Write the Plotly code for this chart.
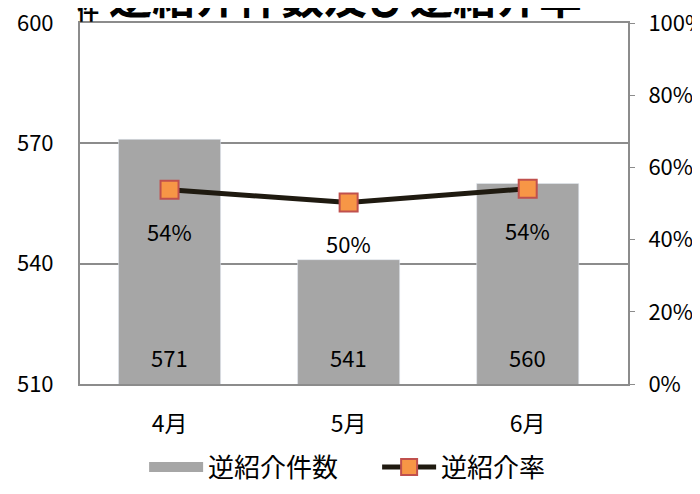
import plotly.graph_objects as go

months = ["4月", "5月", "6月"]
counts = [571, 541, 560]
rates = [0.538, 0.503, 0.541]
rate_labels = ["54%", "50%", "54%"]
left_ticks = [510, 540, 570, 600]
right_ticks = [0, 0.2, 0.4, 0.6, 0.8, 1.0]
right_tick_labels = ["0%", "20%", "40%", "60%", "80%", "100%"]

FONT = "Noto Sans CJK JP"
BAR_COLOR = "#a6a6a6"
AXIS_COLOR = "#8c8c8c"

fig = go.Figure()
fig.add_trace(go.Bar(
    x=months, y=counts, name="逆紹介件数", showlegend=False,
    marker=dict(color=BAR_COLOR), width=0.57,
))
# legend entry for the bars (wide grey swatch as in the reference)
fig.add_trace(go.Scatter(
    x=[None], y=[None], name="逆紹介件数", mode="lines",
    line=dict(color=BAR_COLOR, width=15),
))
fig.add_trace(go.Scatter(
    x=months, y=rates, name="逆紹介率", yaxis="y2",
    mode="lines+markers",
    line=dict(color="#1f1a10", width=5),
    marker=dict(symbol="square", size=18, color="#f79646",
                line=dict(color="#c0504d", width=2)),
))

annotations = [
    dict(text="<b>逆紹介件数及び逆紹介率</b>", xref="paper", yref="paper",
         x=0.485, y=1.0, xanchor="center", yanchor="bottom", showarrow=False,
         yshift=-5, font=dict(size=43, family=FONT)),
    dict(text="<b>件</b>", xref="paper", yref="paper",
         x=0.0146, y=1.0, xanchor="center", yanchor="bottom", showarrow=False,
         yshift=-4, font=dict(size=22, family=FONT)),
]
for m, c in zip(months, counts):
    annotations.append(dict(text=str(c), x=m, y=left_ticks[0], xref="x", yref="y",
                            yshift=27, showarrow=False,
                            font=dict(size=22, family=FONT)))
for m, r, lab in zip(months, rates, rate_labels):
    annotations.append(dict(text=lab, x=m, y=r, xref="x", yref="y2",
                            yshift=-41, showarrow=False,
                            font=dict(size=22, family=FONT)))

fig.update_layout(
    width=700, height=494,
    margin=dict(l=72, r=80, t=15, b=115),
    plot_bgcolor="white", paper_bgcolor="white",
    font=dict(family=FONT, size=22, color="#000000"),
    showlegend=True,
    legend=dict(orientation="h", x=0.117, xanchor="left", y=-0.165, yanchor="top",
                font=dict(size=26, family=FONT), traceorder="normal",
                itemwidth=54, entrywidth=164, entrywidthmode="pixels"),
    xaxis=dict(range=[-0.5, 2.56], showline=True, mirror=True, linecolor=AXIS_COLOR,
               linewidth=2, tickfont=dict(size=23), ticks="", automargin=False,
               ticklabelstandoff=18),
    yaxis=dict(range=[510, 600], tickvals=left_ticks, showline=True,
               linecolor=AXIS_COLOR, linewidth=2, gridcolor=AXIS_COLOR, gridwidth=1.5,
               tickfont=dict(size=22), ticks="", automargin=False,
               ticklabelstandoff=20, zeroline=False, ticklabeloverflow="allow"),
    yaxis2=dict(range=[0, 1], overlaying="y", side="right", tickvals=right_ticks,
                ticktext=right_tick_labels, showline=True, linecolor=AXIS_COLOR,
                linewidth=2, showgrid=False, ticks="outside", ticklen=5,
                tickcolor=AXIS_COLOR, tickfont=dict(size=22), automargin=False,
                ticklabelstandoff=9, zeroline=False, ticklabeloverflow="allow"),
    annotations=annotations,
)

fig.write_html("out.html")
